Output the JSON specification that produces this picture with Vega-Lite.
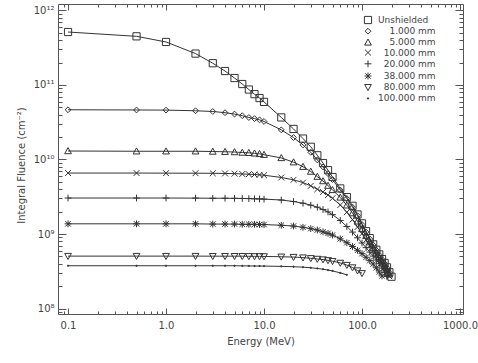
{
  "$schema": "https://vega.github.io/schema/vega-lite/v6.json",
  "width": 405,
  "height": 310,
  "autosize": "none",
  "padding": {"left": 58, "top": 4, "right": 15, "bottom": 49},
  "background": "white",
  "config": {
    "view": {"stroke": "#555", "strokeWidth": 1},
    "font": "DejaVu Sans",
    "axis": {"domain": false, "grid": false, "tickColor": "#555", "tickWidth": 1, "labelColor": "#444", "labelFontSize": 10, "titleColor": "#444", "titleFontSize": 10, "titleFontWeight": "normal", "labelFlush": false, "labelOverlap": false}
  },
  "datasets": {
    "d": [
      {"s":"Unshielded","E":0.1,"F":5.14e11},{"s":"Unshielded","E":0.5,"F":4.50e11},{"s":"Unshielded","E":1,"F":3.78e11},{"s":"Unshielded","E":2,"F":2.64e11},{"s":"Unshielded","E":3,"F":1.96e11},{"s":"Unshielded","E":4,"F":1.54e11},{"s":"Unshielded","E":5,"F":1.24e11},{"s":"Unshielded","E":6,"F":1.03e11},{"s":"Unshielded","E":7,"F":8.69e10},{"s":"Unshielded","E":8,"F":7.53e10},{"s":"Unshielded","E":9,"F":6.68e10},{"s":"Unshielded","E":10,"F":5.93e10},{"s":"Unshielded","E":15,"F":3.67e10},{"s":"Unshielded","E":20,"F":2.57e10},{"s":"Unshielded","E":25,"F":1.91e10},{"s":"Unshielded","E":30,"F":1.48e10},{"s":"Unshielded","E":35,"F":1.14e10},{"s":"Unshielded","E":40,"F":8.96e9},{"s":"Unshielded","E":45,"F":7.19e9},{"s":"Unshielded","E":50,"F":5.82e9},{"s":"Unshielded","E":60,"F":4.09e9},{"s":"Unshielded","E":70,"F":3.13e9},{"s":"Unshielded","E":80,"F":2.39e9},{"s":"Unshielded","E":90,"F":1.83e9},{"s":"Unshielded","E":100,"F":1.39e9},{"s":"Unshielded","E":110,"F":1.09e9},{"s":"Unshielded","E":120,"F":8.80e8},{"s":"Unshielded","E":130,"F":7.27e8},{"s":"Unshielded","E":140,"F":6.15e8},{"s":"Unshielded","E":150,"F":5.32e8},{"s":"Unshielded","E":160,"F":4.61e8},{"s":"Unshielded","E":170,"F":4.09e8},{"s":"Unshielded","E":180,"F":3.57e8},{"s":"Unshielded","E":190,"F":3.07e8},{"s":"Unshielded","E":200,"F":2.67e8},
      {"s":"1.000 mm","E":0.1,"F":4.65e10},{"s":"1.000 mm","E":0.5,"F":4.62e10},{"s":"1.000 mm","E":1,"F":4.60e10},{"s":"1.000 mm","E":2,"F":4.51e10},{"s":"1.000 mm","E":3,"F":4.41e10},{"s":"1.000 mm","E":4,"F":4.25e10},{"s":"1.000 mm","E":5,"F":4.07e10},{"s":"1.000 mm","E":6,"F":3.87e10},{"s":"1.000 mm","E":7,"F":3.66e10},{"s":"1.000 mm","E":8,"F":3.54e10},{"s":"1.000 mm","E":9,"F":3.40e10},{"s":"1.000 mm","E":10,"F":3.24e10},{"s":"1.000 mm","E":15,"F":2.50e10},{"s":"1.000 mm","E":20,"F":1.97e10},{"s":"1.000 mm","E":25,"F":1.57e10},{"s":"1.000 mm","E":30,"F":1.25e10},{"s":"1.000 mm","E":35,"F":9.88e9},{"s":"1.000 mm","E":40,"F":7.95e9},{"s":"1.000 mm","E":45,"F":6.47e9},{"s":"1.000 mm","E":50,"F":5.38e9},{"s":"1.000 mm","E":60,"F":3.89e9},{"s":"1.000 mm","E":70,"F":2.99e9},{"s":"1.000 mm","E":80,"F":2.29e9},{"s":"1.000 mm","E":90,"F":1.76e9},{"s":"1.000 mm","E":100,"F":1.34e9},{"s":"1.000 mm","E":110,"F":1.06e9},{"s":"1.000 mm","E":120,"F":8.59e8},{"s":"1.000 mm","E":130,"F":7.13e8},{"s":"1.000 mm","E":140,"F":6.04e8},{"s":"1.000 mm","E":150,"F":5.25e8},{"s":"1.000 mm","E":160,"F":4.56e8},{"s":"1.000 mm","E":170,"F":4.03e8},{"s":"1.000 mm","E":180,"F":3.52e8},{"s":"1.000 mm","E":190,"F":3.03e8},
      {"s":"5.000 mm","E":0.1,"F":1.30e10},{"s":"5.000 mm","E":0.5,"F":1.29e10},{"s":"5.000 mm","E":1,"F":1.29e10},{"s":"5.000 mm","E":2,"F":1.29e10},{"s":"5.000 mm","E":3,"F":1.28e10},{"s":"5.000 mm","E":4,"F":1.27e10},{"s":"5.000 mm","E":5,"F":1.26e10},{"s":"5.000 mm","E":6,"F":1.24e10},{"s":"5.000 mm","E":7,"F":1.23e10},{"s":"5.000 mm","E":8,"F":1.21e10},{"s":"5.000 mm","E":9,"F":1.19e10},{"s":"5.000 mm","E":10,"F":1.16e10},{"s":"5.000 mm","E":15,"F":1.05e10},{"s":"5.000 mm","E":20,"F":9.20e9},{"s":"5.000 mm","E":25,"F":8.00e9},{"s":"5.000 mm","E":30,"F":6.89e9},{"s":"5.000 mm","E":35,"F":5.89e9},{"s":"5.000 mm","E":40,"F":5.14e9},{"s":"5.000 mm","E":45,"F":4.46e9},{"s":"5.000 mm","E":50,"F":3.91e9},{"s":"5.000 mm","E":60,"F":3.10e9},{"s":"5.000 mm","E":70,"F":2.43e9},{"s":"5.000 mm","E":80,"F":1.91e9},{"s":"5.000 mm","E":90,"F":1.48e9},{"s":"5.000 mm","E":100,"F":1.17e9},{"s":"5.000 mm","E":110,"F":9.48e8},{"s":"5.000 mm","E":120,"F":7.77e8},{"s":"5.000 mm","E":130,"F":6.56e8},{"s":"5.000 mm","E":140,"F":5.67e8},{"s":"5.000 mm","E":150,"F":4.93e8},{"s":"5.000 mm","E":160,"F":4.32e8},{"s":"5.000 mm","E":170,"F":3.81e8},{"s":"5.000 mm","E":180,"F":3.32e8},{"s":"5.000 mm","E":190,"F":2.87e8},
      {"s":"10.000 mm","E":0.1,"F":6.58e9},{"s":"10.000 mm","E":0.5,"F":6.58e9},{"s":"10.000 mm","E":1,"F":6.56e9},{"s":"10.000 mm","E":2,"F":6.55e9},{"s":"10.000 mm","E":3,"F":6.53e9},{"s":"10.000 mm","E":4,"F":6.50e9},{"s":"10.000 mm","E":5,"F":6.46e9},{"s":"10.000 mm","E":6,"F":6.39e9},{"s":"10.000 mm","E":7,"F":6.35e9},{"s":"10.000 mm","E":8,"F":6.29e9},{"s":"10.000 mm","E":9,"F":6.23e9},{"s":"10.000 mm","E":10,"F":6.15e9},{"s":"10.000 mm","E":15,"F":5.74e9},{"s":"10.000 mm","E":20,"F":5.34e9},{"s":"10.000 mm","E":25,"F":4.90e9},{"s":"10.000 mm","E":30,"F":4.43e9},{"s":"10.000 mm","E":35,"F":3.99e9},{"s":"10.000 mm","E":40,"F":3.66e9},{"s":"10.000 mm","E":45,"F":3.34e9},{"s":"10.000 mm","E":50,"F":3.02e9},{"s":"10.000 mm","E":60,"F":2.45e9},{"s":"10.000 mm","E":70,"F":1.96e9},{"s":"10.000 mm","E":80,"F":1.56e9},{"s":"10.000 mm","E":90,"F":1.24e9},{"s":"10.000 mm","E":100,"F":1.01e9},{"s":"10.000 mm","E":110,"F":8.35e8},{"s":"10.000 mm","E":120,"F":6.98e8},{"s":"10.000 mm","E":130,"F":6.00e8},{"s":"10.000 mm","E":140,"F":5.25e8},{"s":"10.000 mm","E":150,"F":4.58e8},{"s":"10.000 mm","E":160,"F":4.06e8},{"s":"10.000 mm","E":170,"F":3.57e8},{"s":"10.000 mm","E":180,"F":3.09e8},{"s":"10.000 mm","E":190,"F":2.71e8},
      {"s":"20.000 mm","E":0.1,"F":3.04e9},{"s":"20.000 mm","E":0.5,"F":3.04e9},{"s":"20.000 mm","E":1,"F":3.04e9},{"s":"20.000 mm","E":2,"F":3.03e9},{"s":"20.000 mm","E":3,"F":3.02e9},{"s":"20.000 mm","E":4,"F":3.02e9},{"s":"20.000 mm","E":5,"F":3.01e9},{"s":"20.000 mm","E":6,"F":3.00e9},{"s":"20.000 mm","E":7,"F":2.99e9},{"s":"20.000 mm","E":8,"F":2.97e9},{"s":"20.000 mm","E":9,"F":2.96e9},{"s":"20.000 mm","E":10,"F":2.94e9},{"s":"20.000 mm","E":15,"F":2.86e9},{"s":"20.000 mm","E":20,"F":2.73e9},{"s":"20.000 mm","E":25,"F":2.59e9},{"s":"20.000 mm","E":30,"F":2.44e9},{"s":"20.000 mm","E":35,"F":2.29e9},{"s":"20.000 mm","E":40,"F":2.13e9},{"s":"20.000 mm","E":45,"F":1.98e9},{"s":"20.000 mm","E":50,"F":1.82e9},{"s":"20.000 mm","E":60,"F":1.52e9},{"s":"20.000 mm","E":70,"F":1.26e9},{"s":"20.000 mm","E":80,"F":1.06e9},{"s":"20.000 mm","E":90,"F":8.90e8},{"s":"20.000 mm","E":100,"F":7.57e8},{"s":"20.000 mm","E":110,"F":6.56e8},{"s":"20.000 mm","E":120,"F":5.72e8},{"s":"20.000 mm","E":130,"F":5.05e8},{"s":"20.000 mm","E":140,"F":4.47e8},{"s":"20.000 mm","E":150,"F":3.99e8},{"s":"20.000 mm","E":160,"F":3.49e8},{"s":"20.000 mm","E":170,"F":3.05e8},{"s":"20.000 mm","E":180,"F":2.69e8},
      {"s":"38.000 mm","E":0.1,"F":1.37e9},{"s":"38.000 mm","E":0.5,"F":1.37e9},{"s":"38.000 mm","E":1,"F":1.37e9},{"s":"38.000 mm","E":2,"F":1.37e9},{"s":"38.000 mm","E":3,"F":1.36e9},{"s":"38.000 mm","E":4,"F":1.36e9},{"s":"38.000 mm","E":5,"F":1.36e9},{"s":"38.000 mm","E":6,"F":1.35e9},{"s":"38.000 mm","E":7,"F":1.35e9},{"s":"38.000 mm","E":8,"F":1.35e9},{"s":"38.000 mm","E":9,"F":1.34e9},{"s":"38.000 mm","E":10,"F":1.34e9},{"s":"38.000 mm","E":15,"F":1.31e9},{"s":"38.000 mm","E":20,"F":1.28e9},{"s":"38.000 mm","E":25,"F":1.23e9},{"s":"38.000 mm","E":30,"F":1.18e9},{"s":"38.000 mm","E":35,"F":1.13e9},{"s":"38.000 mm","E":40,"F":1.07e9},{"s":"38.000 mm","E":45,"F":1.02e9},{"s":"38.000 mm","E":50,"F":9.68e8},{"s":"38.000 mm","E":60,"F":8.61e8},{"s":"38.000 mm","E":70,"F":7.64e8},{"s":"38.000 mm","E":80,"F":6.80e8},{"s":"38.000 mm","E":90,"F":6.04e8},{"s":"38.000 mm","E":100,"F":5.45e8},{"s":"38.000 mm","E":110,"F":4.87e8},{"s":"38.000 mm","E":120,"F":4.39e8},{"s":"38.000 mm","E":130,"F":3.96e8},{"s":"38.000 mm","E":140,"F":3.52e8},{"s":"38.000 mm","E":150,"F":3.09e8},{"s":"38.000 mm","E":160,"F":2.74e8},
      {"s":"80.000 mm","E":0.1,"F":5.05e8},{"s":"80.000 mm","E":0.5,"F":5.05e8},{"s":"80.000 mm","E":1,"F":5.05e8},{"s":"80.000 mm","E":2,"F":5.05e8},{"s":"80.000 mm","E":3,"F":5.04e8},{"s":"80.000 mm","E":4,"F":5.04e8},{"s":"80.000 mm","E":5,"F":5.04e8},{"s":"80.000 mm","E":6,"F":5.04e8},{"s":"80.000 mm","E":7,"F":5.02e8},{"s":"80.000 mm","E":8,"F":5.01e8},{"s":"80.000 mm","E":9,"F":5.01e8},{"s":"80.000 mm","E":10,"F":5.00e8},{"s":"80.000 mm","E":15,"F":4.95e8},{"s":"80.000 mm","E":20,"F":4.90e8},{"s":"80.000 mm","E":25,"F":4.82e8},{"s":"80.000 mm","E":30,"F":4.72e8},{"s":"80.000 mm","E":35,"F":4.62e8},{"s":"80.000 mm","E":40,"F":4.54e8},{"s":"80.000 mm","E":45,"F":4.43e8},{"s":"80.000 mm","E":50,"F":4.32e8},{"s":"80.000 mm","E":60,"F":4.09e8},{"s":"80.000 mm","E":70,"F":3.83e8},{"s":"80.000 mm","E":80,"F":3.55e8},{"s":"80.000 mm","E":90,"F":3.23e8},{"s":"80.000 mm","E":100,"F":2.97e8},
      {"s":"100.000 mm","E":0.1,"F":3.75e8},{"s":"100.000 mm","E":0.5,"F":3.75e8},{"s":"100.000 mm","E":1,"F":3.75e8},{"s":"100.000 mm","E":2,"F":3.75e8},{"s":"100.000 mm","E":3,"F":3.75e8},{"s":"100.000 mm","E":4,"F":3.75e8},{"s":"100.000 mm","E":5,"F":3.75e8},{"s":"100.000 mm","E":6,"F":3.74e8},{"s":"100.000 mm","E":7,"F":3.73e8},{"s":"100.000 mm","E":8,"F":3.72e8},{"s":"100.000 mm","E":9,"F":3.72e8},{"s":"100.000 mm","E":10,"F":3.71e8},{"s":"100.000 mm","E":15,"F":3.68e8},{"s":"100.000 mm","E":20,"F":3.64e8},{"s":"100.000 mm","E":25,"F":3.59e8},{"s":"100.000 mm","E":30,"F":3.52e8},{"s":"100.000 mm","E":35,"F":3.45e8},{"s":"100.000 mm","E":40,"F":3.37e8},{"s":"100.000 mm","E":45,"F":3.28e8},{"s":"100.000 mm","E":50,"F":3.20e8},{"s":"100.000 mm","E":60,"F":3.01e8},{"s":"100.000 mm","E":70,"F":2.83e8}
    ]
  },
  "data": {"name": "d"},
  "layer": [
    {
      "encoding": {
        "x": {"field": "E", "type": "quantitative", "scale": {"type": "log", "domain": [0.079, 1073], "nice": false},
          "axis": {"orient": "bottom", "values": [0.1, 1, 10, 100, 1000], "format": ".1f", "tickSize": -6, "labelPadding": 12, "title": "Energy (MeV)", "titleY": 30, "titleBaseline": "alphabetic"}},
        "y": {"field": "F", "type": "quantitative", "scale": {"type": "log", "domain": [8.44e7, 1.222e12], "nice": false},
          "axis": {"orient": "left", "values": [1e8, 1e9, 1e10, 1e11, 1e12], "tickSize": -8, "labelPadding": 12,
            "labelExpr": "datum.value > 5e11 ? '10¹²' : datum.value > 5e10 ? '10¹¹' : datum.value > 5e9 ? '10¹⁰' : datum.value > 5e8 ? '10⁹' : '10⁸'",
            "title": "Integral Fluence (cm⁻²)", "titleX": -34, "titleY": 161, "titleAngle": 270, "titleAlign": "center", "titleBaseline": "alphabetic"}}
      },
      "layer": [
        {"mark": {"type": "line", "color": "#333", "strokeWidth": 1}, "encoding": {"detail": {"field": "s"}}},
        {"mark": {"type": "point", "filled": false, "color": "#333", "strokeWidth": 1, "opacity": 1, "size": 81},
          "encoding": {
            "shape": {"field": "s", "type": "nominal",
              "scale": {"domain": ["Unshielded", "1.000 mm", "5.000 mm", "10.000 mm", "20.000 mm", "38.000 mm", "80.000 mm", "100.000 mm"],
                "range": ["M-0.8,-0.8L0.8,-0.8L0.8,0.8L-0.8,0.8Z", "M0,-0.65L0.65,0L0,0.65L-0.65,0Z", "M0,-0.75L0.75,0.6L-0.75,0.6Z", "M-0.65,-0.65L0.65,0.65M-0.65,0.65L0.65,-0.65", "M-0.75,0L0.75,0M0,-0.75L0,0.75", "M-0.75,0L0.75,0M0,-0.75L0,0.75M-0.6,-0.6L0.6,0.6M-0.6,0.6L0.6,-0.6", "M-0.75,-0.6L0.75,-0.6L0,0.75Z", "M-0.12,-0.12L0.12,-0.12L0.12,0.12L-0.12,0.12Z"]},
              "legend": {"orient": "none", "legendX": 305, "legendY": 11, "title": null, "padding": 0, "labelFont": "DejaVu Sans", "labelFontSize": 9, "labelColor": "#444", "labelOffset": 5, "symbolSize": 81, "symbolStrokeColor": "#333", "symbolStrokeWidth": 1, "symbolFillColor": "transparent", "rowPadding": 0.2,
                "labelExpr": "(datum.label == '1.000 mm' || datum.label == '5.000 mm') ? '\u200b\u2007\u2007' + datum.label : (datum.label == 'Unshielded' || datum.label == '100.000 mm') ? datum.label : '\u200b\u2007' + datum.label"}}
          }}
      ]
    },
    {
      "mark": {"type": "point", "opacity": 0},
      "encoding": {
        "x": {"field": "E", "type": "quantitative", "scale": {"type": "log", "domain": [0.079, 1073], "nice": false},
          "axis": {"orient": "bottom", "values": [0.09, 0.2, 0.3, 0.4, 0.5, 0.6, 0.7, 0.8, 0.9, 2, 3, 4, 5, 6, 7, 8, 9, 20, 30, 40, 50, 60, 70, 80, 90, 200, 300, 400, 500, 600, 700, 800, 900], "tickSize": -3, "labels": false, "title": null}},
        "y": {"field": "F", "type": "quantitative", "scale": {"type": "log", "domain": [8.44e7, 1.222e12], "nice": false},
          "axis": {"orient": "left", "values": [9e7, 2e8, 3e8, 4e8, 5e8, 6e8, 7e8, 8e8, 9e8, 2e9, 3e9, 4e9, 5e9, 6e9, 7e9, 8e9, 9e9, 2e10, 3e10, 4e10, 5e10, 6e10, 7e10, 8e10, 9e10, 2e11, 3e11, 4e11, 5e11, 6e11, 7e11, 8e11, 9e11], "tickSize": -4, "labels": false, "title": null}}
      }
    },
    {
      "mark": {"type": "point", "opacity": 0},
      "encoding": {
        "x": {"field": "E", "type": "quantitative", "scale": {"type": "log", "domain": [0.079, 1073], "nice": false},
          "axis": {"orient": "top", "values": [0.1, 1, 10, 100, 1000], "tickSize": -6, "labels": false, "title": null}},
        "y": {"field": "F", "type": "quantitative", "scale": {"type": "log", "domain": [8.44e7, 1.222e12], "nice": false},
          "axis": {"orient": "right", "values": [1e8, 1e9, 1e10, 1e11, 1e12], "tickSize": -8, "labels": false, "title": null}}
      }
    },
    {
      "mark": {"type": "point", "opacity": 0},
      "encoding": {
        "x": {"field": "E", "type": "quantitative", "scale": {"type": "log", "domain": [0.079, 1073], "nice": false},
          "axis": {"orient": "top", "values": [0.09, 0.2, 0.3, 0.4, 0.5, 0.6, 0.7, 0.8, 0.9, 2, 3, 4, 5, 6, 7, 8, 9, 20, 30, 40, 50, 60, 70, 80, 90, 200, 300, 400, 500, 600, 700, 800, 900], "tickSize": -3, "labels": false, "title": null}},
        "y": {"field": "F", "type": "quantitative", "scale": {"type": "log", "domain": [8.44e7, 1.222e12], "nice": false},
          "axis": {"orient": "right", "values": [9e7, 2e8, 3e8, 4e8, 5e8, 6e8, 7e8, 8e8, 9e8, 2e9, 3e9, 4e9, 5e9, 6e9, 7e9, 8e9, 9e9, 2e10, 3e10, 4e10, 5e10, 6e10, 7e10, 8e10, 9e10, 2e11, 3e11, 4e11, 5e11, 6e11, 7e11, 8e11, 9e11], "tickSize": -4, "labels": false, "title": null}}
      }
    }
  ],
  "resolve": {"scale": {"x": "independent", "y": "independent"}}
}
